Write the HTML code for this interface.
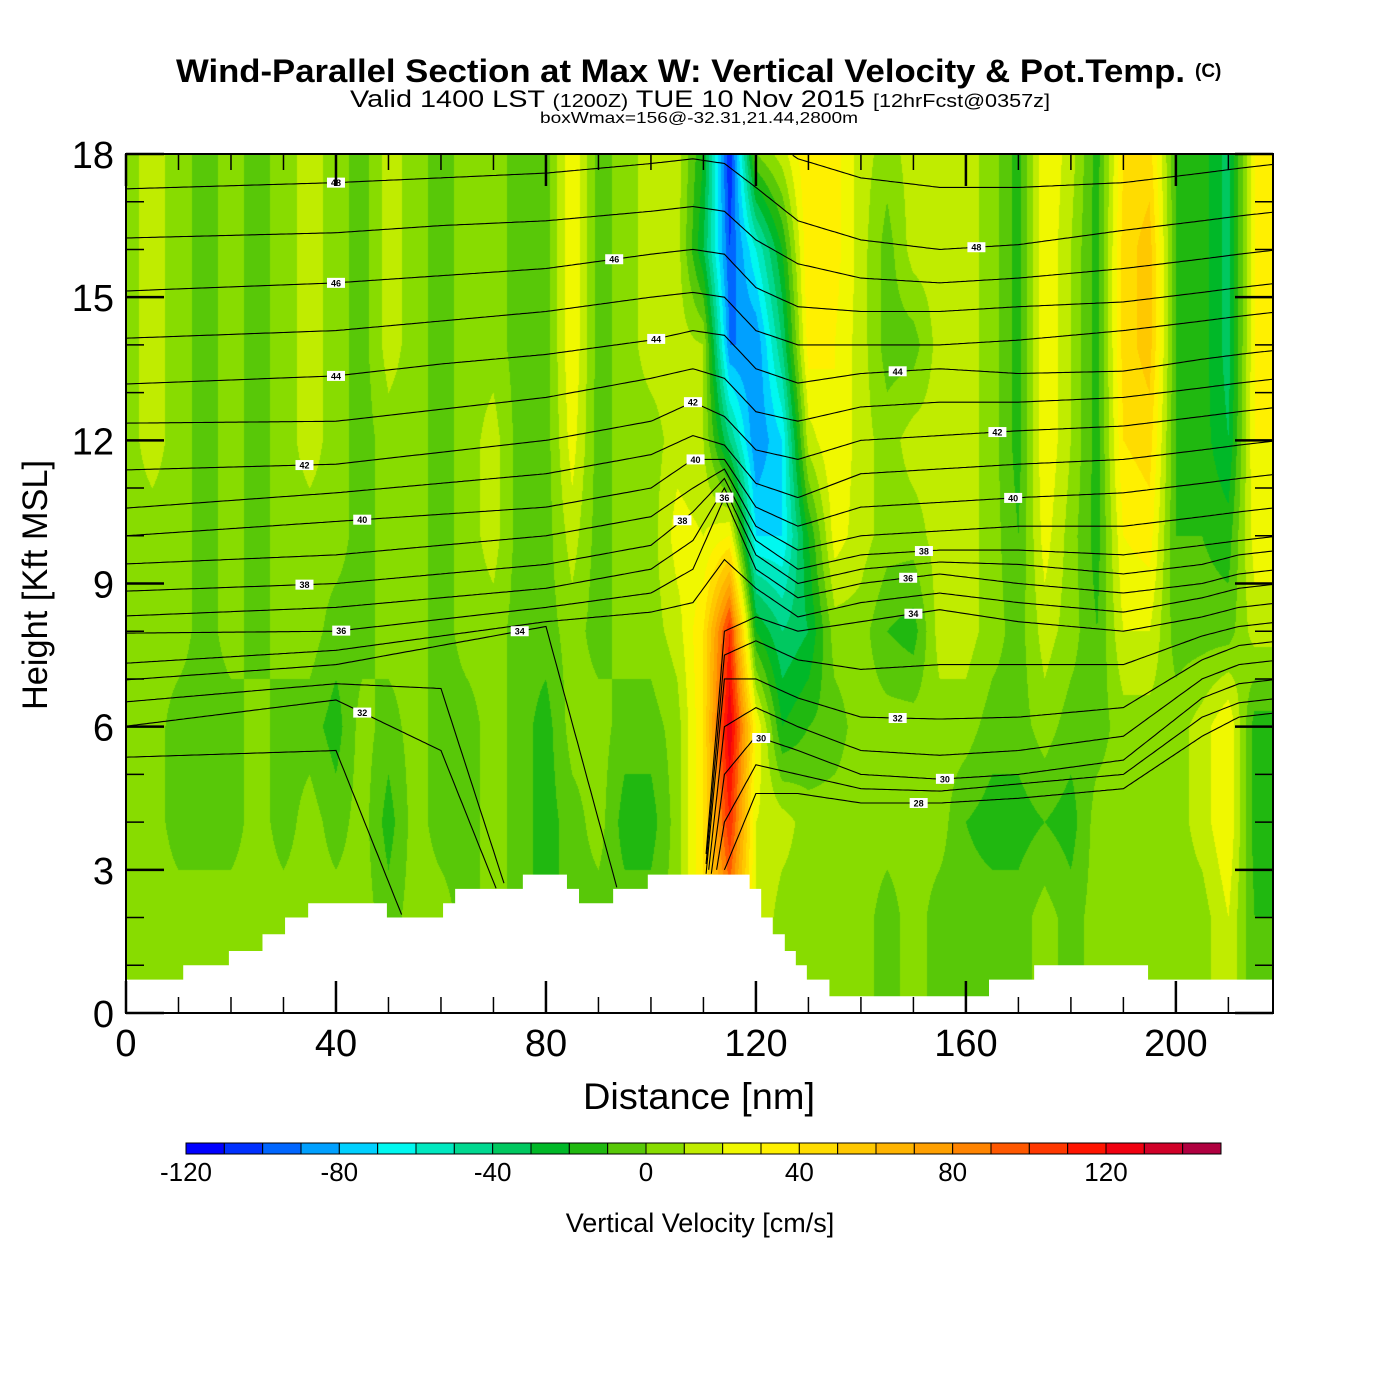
<!DOCTYPE html>
<html><head><meta charset="utf-8">
<style>
body{margin:0;background:#fff;width:1400px;height:1400px;overflow:hidden;position:relative;font-family:"Liberation Sans",sans-serif}
#field{position:absolute;left:126px;top:154px}
#ov{position:absolute;left:0;top:0}
</style></head>
<body>
<canvas id="field" width="1147" height="859"></canvas>
<svg id="ov" width="1400" height="1400" xmlns="http://www.w3.org/2000/svg">
<g id="lines"></g>
<g id="terrain"></g>
<g id="labels"></g>
<g id="axes"></g>
<text x="176" y="82" font-size="32" font-weight="bold" textLength="1009" lengthAdjust="spacingAndGlyphs">Wind-Parallel Section at Max W: Vertical Velocity &amp; Pot.Temp.</text>
<text x="1195" y="77" font-size="19" font-weight="bold">(C)</text>
<text x="350" y="107" font-size="24" textLength="700" lengthAdjust="spacingAndGlyphs">Valid 1400 LST <tspan font-size="18">(1200Z)</tspan> TUE 10 Nov 2015 <tspan font-size="18">[12hrFcst@0357z]</tspan></text>
<text x="540" y="123" font-size="16" textLength="318" lengthAdjust="spacingAndGlyphs">boxWmax=156@-32.31,21.44,2800m</text>
<text x="583" y="1109" font-size="37" textLength="232" lengthAdjust="spacingAndGlyphs">Distance [nm]</text>
<text x="0" y="0" transform="translate(47,585) rotate(-90)" text-anchor="middle" font-size="35" textLength="250" lengthAdjust="spacingAndGlyphs">Height [Kft MSL]</text>
<g id="cbar"></g>
<text x="700" y="1232" text-anchor="middle" font-size="27">Vertical Velocity [cm/s]</text>
</svg>
<script>
// ---- data ----
const wCols = [0,5,10,15,20,25,30,35,40,45,50,55,60,65,70,75,80,85,90,95,100,105,110,115,120,125,130,135,140,145,150,155,160,165,170,175,180,185,190,195,200,205,210,215,220];
const wRows = [18,16,14,12,10,8,6,4,2,0];
const wByColumn = [
[5,5,5,5,5,5,5,5,5,5],[15,15,15,15,5,5,5,5,5,5],[5,5,5,5,5,5,-5,-5,5,5],[-5,-5,-5,-5,-5,-5,-5,-5,5,5],
[5,5,5,5,5,5,-5,-5,5,5],[-5,-5,-5,-5,-5,-5,5,5,5,5],[5,5,5,5,5,5,-5,-5,5,5],[15,15,15,15,5,5,-5,5,5,5],
[5,5,5,5,5,-5,-15,-5,5,5],[-5,-5,-5,-5,-5,-5,5,5,5,5],[15,15,15,5,5,5,-5,-15,-5,5],[5,5,5,5,5,5,5,5,5,5],
[-5,-5,-5,-5,-5,-5,-5,-5,5,5],[5,5,5,5,5,5,-5,-5,-5,5],[5,5,5,15,15,5,5,5,5,5],[-5,-5,-5,-5,-5,-5,-5,-5,-5,5],
[-5,-5,-5,-5,-5,-5,-15,-15,-15,5],[30,30,30,25,15,5,5,-5,-5,5],[-5,-5,-5,-5,-5,-5,5,5,-5,5],[5,5,5,5,5,5,-5,-15,-5,5],
[15,15,15,5,5,5,-5,-15,-5,5],[15,15,15,15,25,15,5,5,5,5],[-20,-30,10,10,20,40,40,40,40,40],[-110,-100,-90,-40,30,110,130,110,80,80],
[0,-60,-90,-90,-70,-20,30,20,20,20],[15,-20,-40,-70,-70,-40,-20,15,5,5],[40,40,35,15,-20,-30,-10,5,5,5],[35,35,30,30,25,5,-5,5,5,5],
[15,15,15,15,15,5,5,5,5,5],[5,-5,-5,5,5,-10,5,5,-5,-5],[15,15,-5,15,5,-15,5,5,5,5],[15,15,15,15,15,15,5,5,-5,-5],
[15,15,15,15,15,15,5,-10,-5,-5],[5,5,5,5,5,5,-5,-15,-5,-5],[-15,-15,-15,-15,-10,-5,-5,-15,-5,-5],[30,30,30,30,25,15,5,-10,5,5],
[15,10,10,10,5,5,-5,-15,-5,-5],[-15,-15,-15,-15,-15,-10,-5,5,5,5],[40,45,45,40,30,20,5,5,5,5],[45,55,55,45,35,20,5,5,5,5],
[-10,-10,-10,-10,-10,-5,5,5,5,5],[-15,-15,-15,-15,-10,-5,15,15,5,5],[-35,-35,-35,-30,-15,-5,30,30,20,20],[30,30,30,30,25,15,-15,-15,-10,-10],
[30,30,30,30,25,15,-15,-15,-10,-10]];
const levelColors = ["#0000ff","#0030ff","#0066ff","#00a0ff","#00d0ff","#00f8f0","#00e8c0","#00d890","#00c860","#00b828","#20b810","#58c808","#88dc00","#c0ec00","#f0f800","#fff000","#ffdc00","#ffc800","#ffb400","#ffa000","#ff8400","#ff5800","#ff3800","#ff1400","#f00010","#d00028","#b00040"];
const cbarTicks = [-120,-80,-40,0,40,80,120];
const thetaCols = [0,40,60,80,100,108,114,120,128,140,155,170,190,205,212,220];
const thetaLevels = [49,48,47,46,45,44,43,42,41,40,39,38,37,36,35,34,33,32,31,30,29,28];
const thetaZ = [
[18.3,18.4,18.5,18.6,18.8,18.9,18.9,18.5,17.9,17.5,17.3,17.3,17.4,17.6,17.7,17.8],
[17.27,17.4,17.5,17.6,17.8,17.9,17.8,17.3,16.6,16.2,16.0,16.1,16.4,16.6,16.7,16.8],
[16.24,16.35,16.5,16.6,16.8,16.9,16.8,16.2,15.7,15.4,15.3,15.4,15.6,15.8,15.9,16.0],
[15.13,15.3,15.45,15.6,15.9,16.0,15.9,15.2,14.8,14.7,14.7,14.8,14.9,15.1,15.2,15.3],
[14.14,14.3,14.5,14.7,15.0,15.1,15.0,14.3,14.0,14.0,14.0,14.1,14.3,14.5,14.6,14.7],
[13.18,13.35,13.6,13.8,14.1,14.3,14.2,13.5,13.2,13.4,13.5,13.4,13.45,13.7,13.8,13.9],
[12.36,12.4,12.65,12.9,13.3,13.5,13.3,12.6,12.4,12.7,12.8,12.8,12.9,13.1,13.2,13.3],
[11.38,11.5,11.75,12.0,12.4,12.8,12.5,11.8,11.6,12.0,12.1,12.2,12.3,12.5,12.6,12.7],
[10.58,10.9,11.1,11.3,11.7,12.1,11.9,11.1,10.8,11.3,11.4,11.5,11.6,11.8,11.9,12.0],
[10.0,10.3,10.45,10.6,11.0,11.6,11.6,10.6,10.2,10.6,10.7,10.8,10.9,11.1,11.2,11.3],
[9.41,9.6,9.8,10.0,10.4,11.0,11.4,10.2,9.7,10.0,10.1,10.2,10.2,10.4,10.5,10.6],
[8.84,9.0,9.2,9.4,9.8,10.5,11.2,9.9,9.3,9.6,9.7,9.7,9.6,9.8,9.9,10.0],
[8.32,8.5,8.7,8.9,9.3,9.9,11.0,9.6,9.0,9.3,9.45,9.4,9.2,9.4,9.6,9.7],
[7.96,8.0,8.25,8.5,8.8,9.3,10.8,9.3,8.7,9.0,9.2,9.0,8.8,9.0,9.2,9.3],
[7.33,7.6,7.9,8.2,8.4,8.6,9.5,8.9,8.3,8.6,8.8,8.6,8.4,8.7,8.9,9.0],
[6.98,7.3,7.7,8.1,0,0,8.0,8.3,8.0,8.2,8.45,8.2,8.0,8.3,8.5,8.6],
[6.52,6.9,6.8,0,0,0,7.5,7.8,7.4,7.2,7.3,7.3,7.3,7.9,8.1,8.2],
[6.01,6.56,5.5,0,0,0,7.0,7.0,6.6,6.2,6.16,6.2,6.4,7.4,7.7,7.8],
[5.36,5.5,0,0,0,0,6.0,6.4,6.0,5.5,5.4,5.5,5.8,7.0,7.3,7.4],
[0,0,0,0,0,0,5.0,5.8,5.5,5.0,4.9,5.0,5.3,6.6,6.9,7.0],
[0,0,0,0,0,0,4.0,5.2,5.0,4.7,4.65,4.8,5.0,6.2,6.5,6.6],
[0,0,0,0,0,0,3.0,4.6,4.6,4.4,4.4,4.5,4.7,5.8,6.2,6.3]];
const labelLevel = [48,46,44,42,40,38,36,32,34,46,44,42,40,38,36,30,44,42,40,38,36,34,32,30,28,48];
const labelNm = [40,40,40,34,45,34,41,45,75,93,101,108,108.5,106,114,121,147,166,169,152,149,150,147,156,151,162];
const terrNm = [0,10.9,19.6,26,30.3,34.7,49.7,60.4,62.7,75.6,84,86.3,92.8,99.4,118.8,121,123.2,125.5,127.6,129.7,134,164.4,173,194.7];
const terrZ = [0.7,1.0,1.3,1.65,2.0,2.3,2.0,2.3,2.6,2.9,2.6,2.3,2.6,2.9,2.6,2.0,1.65,1.3,1.0,0.7,0.35,0.7,1.0,0.7];
const xTicks = [0,40,80,120,160,200];
const yTicks = [0,3,6,9,12,15,18];

// ---- axes functions ----
const X0=126, X1=1273, Y0=1013, Y1=154, XMAX=218.5, ZMAX=18;
const sx = nm => X0 + nm*(X1-X0)/XMAX;
const sy = z => Y0 - z*(Y0-Y1)/ZMAX;
const NS="http://www.w3.org/2000/svg";
function mk(tag, attrs, parent){const e=document.createElementNS(NS,tag);for(const k in attrs)e.setAttribute(k,attrs[k]);parent.appendChild(e);return e;}
function interp(xs, ys, x){
  if(x<=xs[0])return ys[0];
  for(let i=1;i<xs.length;i++){if(x<=xs[i]){const t=(x-xs[i-1])/(xs[i]-xs[i-1]);return ys[i-1]+t*(ys[i]-ys[i-1]);}}
  return ys[ys.length-1];
}
function terrainAt(nm){let z=terrZ[0];for(let i=0;i<terrNm.length;i++){if(nm>=terrNm[i])z=terrZ[i];}return z;}

// ---- field ----
(function(){
  const cv=document.getElementById('field');const ctx=cv.getContext('2d');
  const W=cv.width,H=cv.height;const img=ctx.createImageData(W,H);
  const rgb=levelColors.map(c=>[parseInt(c.substr(1,2),16),parseInt(c.substr(3,2),16),parseInt(c.substr(5,2),16)]);
  const nc=wCols.length, nr=wRows.length;
  for(let py=0;py<H;py++){
    const z=ZMAX-(py+0.5)*ZMAX/H;
    let r=(wRows[0]-z)/(wRows[0]-wRows[1]); if(r<0)r=0; if(r>nr-1)r=nr-1;
    const r0=Math.min(Math.floor(r),nr-2), tr=r-r0;
    for(let px=0;px<W;px++){
      const nm=(px+0.5)*XMAX/W;
      let c=(nm-wCols[0])/(wCols[1]-wCols[0]); if(c>nc-1)c=nc-1;
      const c0=Math.min(Math.floor(c),nc-2), tc=c-c0;
      const a=wByColumn[c0][r0]*(1-tr)+wByColumn[c0][r0+1]*tr;
      const b=wByColumn[c0+1][r0]*(1-tr)+wByColumn[c0+1][r0+1]*tr;
      const w=a*(1-tc)+b*tc;
      let k=Math.floor((w+120)/10); if(k<0)k=0; if(k>26)k=26;
      const o=(py*W+px)*4; img.data[o]=rgb[k][0];img.data[o+1]=rgb[k][1];img.data[o+2]=rgb[k][2];img.data[o+3]=255;
    }
  }
  ctx.putImageData(img,0,0);
})();

// ---- contours ----
const gl=document.getElementById('lines');
thetaLevels.forEach((lev,li)=>{
  let d="", pen=false;
  for(let nm=0;nm<=XMAX+0.001;nm+=0.5){
    const z=interp(thetaCols,thetaZ[li],nm);
    if(z<terrainAt(nm)-0.05||z>ZMAX){pen=false;continue;}
    d+=(pen?"L":"M")+sx(nm).toFixed(1)+" "+sy(z).toFixed(1);pen=true;
  }
  const p=mk('path',{d:d,fill:'none',stroke:'#000','stroke-width':1.1},gl);
  
  
});
// ---- terrain ----
(function(){
  const g=document.getElementById('terrain');
  let d="M"+sx(0)+" "+sy(0);
  for(let i=0;i<terrNm.length;i++){const xe=i+1<terrNm.length?terrNm[i+1]:XMAX;d+="L"+sx(terrNm[i])+" "+sy(terrZ[i])+"L"+sx(xe)+" "+sy(terrZ[i]);}
  d+="L"+sx(XMAX)+" "+sy(0)+"Z";
  const p=mk('path',{d:d,fill:'#fff',stroke:'none'},g);
  
  
})();
// ---- labels ----
(function(){
  const g=document.getElementById('labels');
  labelLevel.forEach((lev,i)=>{
    const li=thetaLevels.indexOf(lev);const nm=labelNm[i];
    const z=interp(thetaCols,thetaZ[li],nm);
    const x=sx(nm),y=sy(z);
    const r=mk('rect',{x:x-9,y:y-5,width:18,height:10,fill:'#fff'},g);
    
    
    const t=mk('text',{x:x,y:y+3.5,'text-anchor':'middle','font-size':9,'font-weight':'bold'},g);
    t.textContent=lev;
    
    
  });
})();
// ---- axes ----
(function(){
  const g=document.getElementById('axes');
  const f=mk('rect',{x:X0,y:Y1,width:X1-X0,height:Y0-Y1,fill:'none',stroke:'#000','stroke-width':2},g);
  
  
  for(let nm=0;nm<=XMAX;nm+=10){
    const major=nm%40===0, L=major?32:16, x=sx(nm);
    mk('line',{x1:x,y1:Y0,x2:x,y2:Y0-L,stroke:'#000','stroke-width':major?2.5:1.5},g);
    mk('line',{x1:x,y1:Y1,x2:x,y2:Y1+L,stroke:'#000','stroke-width':major?2.5:1.5},g);
  }
  for(let z=0;z<=18;z+=1){
    const major=z%3===0, L=major?38:18, y=sy(z);
    mk('line',{x1:X0,y1:y,x2:X0+L,y2:y,stroke:'#000','stroke-width':major?2.5:1.5},g);
    mk('line',{x1:X1,y1:y,x2:X1-L,y2:y,stroke:'#000','stroke-width':major?2.5:1.5},g);
  }
  xTicks.forEach(v=>{const t=mk('text',{x:sx(v),y:1056,'text-anchor':'middle','font-size':38},g);t.textContent=v;
    
    });
  yTicks.forEach(v=>{const t=mk('text',{x:114,y:sy(v)+14,'text-anchor':'end','font-size':38},g);t.textContent=v;
    
    });
})();
// ---- colorbar ----
(function(){
  const g=document.getElementById('cbar');
  const cx=v=>186+(v+120)*(1106-186)/240;
  levelColors.forEach((c,i)=>{
    const v=-120+i*10;
    const r=mk('rect',{x:cx(v),y:1143,width:cx(v+10)-cx(v),height:11,fill:c,stroke:'#000','stroke-width':1},g);
    
    
  });
  cbarTicks.forEach(v=>{const t=mk('text',{x:cx(v),y:1181,'text-anchor':'middle','font-size':26},g);t.textContent=v;
    
    });
})();
</script>
</body></html>
